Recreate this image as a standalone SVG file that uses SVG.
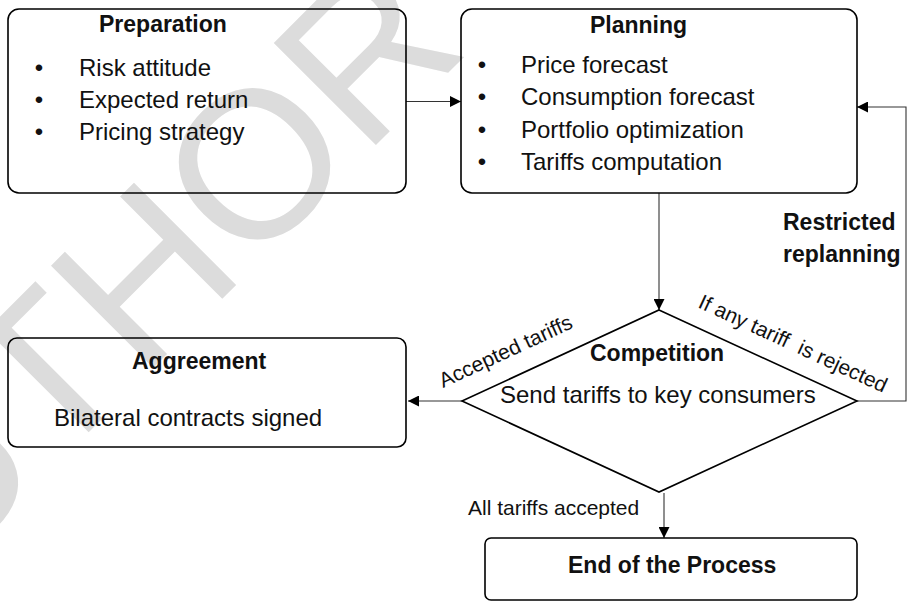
<svg xmlns="http://www.w3.org/2000/svg" width="909" height="602" viewBox="0 0 909 602">
<style>
.box{fill:none;stroke:#000;stroke-width:1.6}
.con{fill:none;stroke:#333;stroke-width:1.1}
.t{font-family:"Liberation Sans",Arial,sans-serif;fill:#111}
.b{font-weight:bold;font-size:23px}
.n{font-size:24px}
.l{font-size:21px}
.wm{font-family:"Liberation Sans",Arial,sans-serif;font-size:210px;fill:#dcdcdc}
</style>
<defs>
<marker id="ah" markerUnits="userSpaceOnUse" markerWidth="12" markerHeight="11" refX="11" refY="5.5" orient="auto">
<path d="M0,0 L11,5.5 L0,11 Z" fill="#000"/>
</marker>
</defs>
<rect width="909" height="602" fill="#fff"/>
<text class="wm" transform="translate(-156,677) rotate(-45)">AUTHOR</text>

<g id="connectors">
<path class="con" d="M406,101.5 H461" marker-end="url(#ah)"/>
<path class="con" d="M659,193 V310" marker-end="url(#ah)"/>
<path class="con" d="M857,401 H906 V107 H857" marker-end="url(#ah)"/>
<path class="con" d="M462,401 H408" marker-end="url(#ah)"/>
<path class="con" d="M664,493 V538" marker-end="url(#ah)"/>
<text class="t l" font-size="20.5" transform="translate(443,388) rotate(-24.8)">Accepted tariffs</text>
<text class="t l" font-size="22" transform="translate(697,307) rotate(24.8)" xml:space="preserve">If any tariff  is rejected</text>
<text class="t b" x="783" y="230">Restricted</text>
<text class="t b" x="783" y="262">replanning</text>
<text class="t l" x="468" y="515">All tariffs accepted</text>
</g>

<g id="preparation">
<rect class="box" x="8" y="9" width="398" height="184" rx="11"/>
<text class="t b" x="99" y="32">Preparation</text>
<text class="t n" x="39" y="76" text-anchor="middle">•</text>
<text class="t n" x="39" y="108" text-anchor="middle">•</text>
<text class="t n" x="39" y="140" text-anchor="middle">•</text>
<text class="t n" x="79" y="76">Risk attitude</text>
<text class="t n" x="79" y="108">Expected return</text>
<text class="t n" x="79" y="140">Pricing strategy</text>
</g>

<g id="planning">
<rect class="box" x="461" y="9" width="396" height="184" rx="11"/>
<text class="t b" x="590" y="33">Planning</text>
<text class="t n" x="482" y="73" text-anchor="middle">•</text>
<text class="t n" x="482" y="105" text-anchor="middle">•</text>
<text class="t n" x="482" y="137.5" text-anchor="middle">•</text>
<text class="t n" x="482" y="170" text-anchor="middle">•</text>
<text class="t n" x="521" y="73">Price forecast</text>
<text class="t n" x="521" y="105">Consumption forecast</text>
<text class="t n" x="521" y="137.5">Portfolio optimization</text>
<text class="t n" x="521" y="170">Tariffs computation</text>
</g>

<g id="competition">
<path class="box" d="M659,310 L857,401 L659,492 L462,401 Z"/>
<text class="t b" x="590" y="361">Competition</text>
<text class="t n" x="500" y="403">Send tariffs to key consumers</text>
</g>

<g id="agreement">
<rect class="box" x="8" y="338" width="398" height="109" rx="9"/>
<text class="t b" x="132" y="369">Aggreement</text>
<text class="t n" x="54" y="426">Bilateral contracts signed</text>
</g>

<g id="end">
<rect class="box" x="485" y="538" width="372" height="62" rx="6"/>
<text class="t b" font-size="21.5" x="568" y="573">End of the Process</text>
</g>
</svg>
